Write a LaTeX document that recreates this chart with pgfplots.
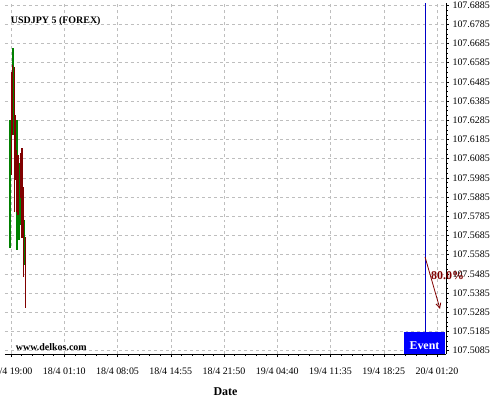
\documentclass[border=0pt]{standalone}
\usepackage{fontspec}
\setmainfont{Liberation Serif}
\usepackage{pgfplots}
\pgfplotsset{compat=1.18}
\usetikzlibrary{arrows.meta}

\definecolor{upgreen}{RGB}{0,128,0}
\definecolor{downred}{RGB}{128,0,0}
\definecolor{evblue}{RGB}{0,0,255}
\definecolor{evline}{RGB}{0,0,200}
\definecolor{gridgray}{RGB}{190,190,190}

\begin{document}
\begin{tikzpicture}
\begin{axis}[
  name=ax,
  scale only axis,
  width=441bp, height=351bp,
  xmin=-0.113, xmax=8.169,
  ymin=107.5067, ymax=107.6896,
  axis x line*=bottom,
  axis y line*=right,
  axis line style={black, line width=1pt},
  tick align=outside,
  major tick length=3bp,
  minor tick length=2bp,
  tick style={black, line width=0.4pt},
  xtick={0,1,2,3,4,5,6,7,8},
  xticklabels={18/4 19:00,18/4 01:10,18/4 08:05,18/4 14:55,18/4 21:50,19/4 04:40,19/4 11:35,19/4 18:25,20/4 01:20},
  minor x tick num=4,
  ytick={107.5085,107.5185,107.5285,107.5385,107.5485,107.5585,107.5685,107.5785,107.5885,107.5985,107.6085,107.6185,107.6285,107.6385,107.6485,107.6585,107.6685,107.6785,107.6885},
  yticklabels={107.5085,107.5185,107.5285,107.5385,107.5485,107.5585,107.5685,107.5785,107.5885,107.5985,107.6085,107.6185,107.6285,107.6385,107.6485,107.6585,107.6685,107.6785,107.6885},
  minor y tick num=3,
  ticklabel style={font=\fontsize{10}{12}\selectfont},
  xticklabel style={yshift=-7bp},
  grid=major,
  major grid style={gridgray, dashed, line width=0.5pt},
  xlabel={Date},
  xlabel style={font=\fontsize{12}{14}\selectfont\bfseries, yshift=-7bp},
  clip=false,
  unbounded coords=jump,
]
% rising candles
\addplot[upgreen, line width=1.3pt] table {
x y
-0.019 107.5619
-0.019 107.6286
nan nan
0.0376 107.6208
0.0376 107.6661
nan nan
0.065 107.6208
0.065 107.6401
nan nan
0.113 107.5609
0.113 107.6286
nan nan
0.150 107.5661
0.150 107.6062
nan nan
0.188 107.5739
0.188 107.6052
nan nan
0.244 107.5531
0.244 107.5765
};
% falling candles
\addplot[downred, line width=1.3pt] table {
x y
0.0094 107.6000
0.0094 107.6536
nan nan
0.024 107.6208
0.024 107.6572
nan nan
0.069 107.5807
0.069 107.6562
nan nan
0.088 107.5974
0.088 107.6312
nan nan
0.099 107.5807
0.099 107.6130
nan nan
0.131 107.5791
0.131 107.6104
nan nan
0.175 107.5880
0.175 107.6114
nan nan
0.207 107.5672
0.207 107.6140
nan nan
0.231 107.5468
0.231 107.5937
nan nan
0.269 107.5307
0.269 107.5677
};
% event marker
\addplot[fill=evblue, draw=none] coordinates {(7.380,107.5067) (8.150,107.5067) (8.150,107.5182) (7.380,107.5182)} -- cycle;
\addplot[evline, line width=1pt] coordinates {(7.775,107.5182) (7.775,107.6896)};
\addplot[downred, line width=0.8pt, -{Straight Barb[length=5bp,width=5bp]}] coordinates {(7.775,107.5573) (8.056,107.5302)};
\node[anchor=west, text=downred, font=\fontsize{12}{14}\selectfont\bfseries, inner sep=0pt] at (axis cs:7.887,107.5474) {80.0\%};
\node[text=white, font=\fontsize{12}{14}\selectfont\bfseries, inner sep=0pt] at (axis cs:7.765,107.5109) {Event};
\node[anchor=west, font=\fontsize{10}{12}\selectfont\bfseries, inner sep=0pt] at (axis cs:-0.006,107.6803) {USDJPY 5 (FOREX)};
\node[anchor=west, font=\fontsize{10}{12}\selectfont\bfseries, inner sep=0pt] at (axis cs:0.088,107.5104) {www.delkos.com};
\end{axis}
\pgfresetboundingbox
\path (ax.south west) ++(-5bp,-46bp) rectangle ++(500bp,400bp);
\end{tikzpicture}
\end{document}
